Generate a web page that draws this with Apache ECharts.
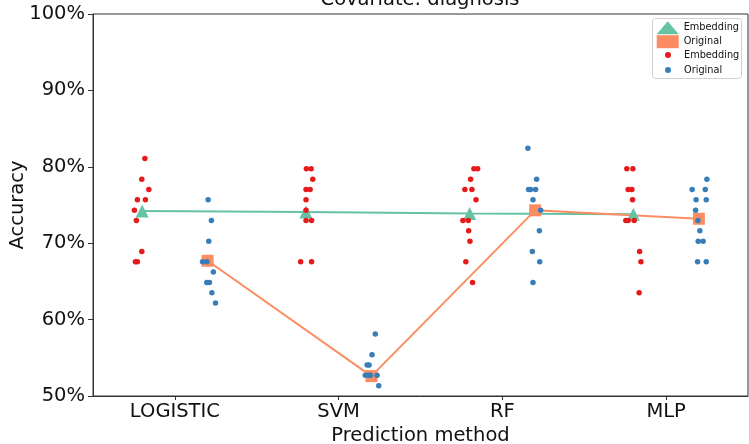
<!DOCTYPE html>
<html>
<head>
<meta charset="utf-8">
<script src="https://cdn.jsdelivr.net/npm/echarts@6/dist/echarts.min.js"></script>
<style>
html,body{margin:0;padding:0;background:#fff;}
#chart{width:749px;height:444px;}
</style>
</head>
<body>
<div id="chart"></div>
<script>
// ---- data ----
const categories = ['LOGISTIC', 'SVM', 'RF', 'MLP'];
const titleText = 'Covariate: diagnosis';
const yTickValues = [50, 60, 70, 80, 90, 100];

// mean accuracy per method (line + big markers)
const embeddingMean = [74.2, 74.1, 73.9, 73.8];
const originalMean  = [67.7, 52.6, 74.3, 73.2];

// individual fold accuracies (strip points) per method
const embeddingPoints = [
  [81.08, 78.38, 77.03, 75.68, 75.68, 74.32, 72.97, 68.92, 67.57, 67.57],
  [79.73, 79.73, 78.38, 77.03, 77.03, 75.68, 74.32, 72.97, 72.97, 67.57, 67.57],
  [79.73, 79.73, 78.38, 77.03, 77.03, 75.68, 72.97, 72.97, 71.62, 70.27, 67.57, 64.86],
  [79.73, 79.73, 77.03, 77.03, 75.68, 72.97, 72.97, 72.97, 68.92, 67.57, 63.51]
];
const originalPoints = [
  [75.68, 72.97, 70.27, 67.57, 67.57, 66.22, 64.86, 64.86, 63.51, 62.16],
  [58.11, 55.41, 54.05, 54.05, 52.70, 52.70, 52.70, 52.70, 51.35],
  [82.43, 78.38, 77.03, 77.03, 77.03, 75.68, 74.32, 71.62, 68.92, 67.57, 64.86],
  [78.38, 77.03, 77.03, 75.68, 75.68, 74.32, 72.97, 71.62, 70.27, 70.27, 67.57, 67.57]
];
// horizontal strip jitter (in category-width units)
const embeddingJitter = [
  [0.017, -0.002, 0.041, -0.029, 0.020, -0.047, -0.035, -0.002, -0.041, -0.029],
  [0.003, 0.032, 0.042, 0.001, 0.026, 0.001, 0.001, 0.001, 0.035, -0.032, 0.035],
  [0.026, 0.049, 0.006, -0.029, 0.014, 0.039, -0.041, -0.008, -0.006, 0.002, -0.023, 0.018],
  [-0.040, -0.003, -0.032, -0.009, -0.005, -0.046, -0.032, 0.005, 0.038, 0.046, 0.035]
];
const originalJitter = [
  [0.003, 0.023, 0.007, -0.031, -0.004, 0.035, -0.005, 0.011, 0.026, 0.048],
  [0.024, 0.004, -0.026, -0.014, -0.037, -0.018, -0.006, 0.035, 0.045],
  [-0.044, 0.009, -0.040, -0.028, 0.003, -0.013, 0.034, 0.026, -0.017, 0.028, -0.013],
  [0.049, -0.041, 0.039, -0.017, 0.045, -0.020, -0.006, 0.006, -0.004, 0.026, -0.008, 0.045]
];
const groupOffset = 0.2; // dodge of Embedding (-) / Original (+)

// ---- build ----
const FONT = 'DejaVu Sans';
const TXT = '#111';
const C_EMB_MEAN = '#66c2a5', C_ORI_MEAN = '#fc8d62';
const C_EMB_PT = '#e41a1c', C_ORI_PT = '#377eb8';

function meanData(arr, off) { return arr.map((v, i) => [i + off, v]); }
function stripData(pts, jit, off) {
  const out = [];
  pts.forEach((list, i) => list.forEach((v, k) => out.push([i + off + jit[i][k], v])));
  return out;
}

const chart = echarts.init(document.getElementById('chart'), null, {renderer: 'canvas'});
const option = {
  animation: false,
  backgroundColor: '#fff',
  textStyle: {fontFamily: FONT},
  grid: {left: 93, top: 14, right: 1, bottom: 48, show: true, borderColor: '#333', borderWidth: 1,
         containLabel: false, outerBoundsMode: 'none'},
  graphic: [
    {type: 'text', x: 420, y: 0, z: 10,
     style: {text: titleText, font: '19.5px "DejaVu Sans"', fill: TXT, textAlign: 'center', textVerticalAlign: 'middle'}},
    {type: 'rect', z: 5, shape: {x: 652.5, y: 18.5, width: 89, height: 60, r: 3},
     style: {fill: 'rgba(255,255,255,0.85)', stroke: '#d0d0d0', lineWidth: 1}}
  ],
  legend: [
    {orient: 'vertical', left: 656.7, top: 21.2, padding: 0, itemGap: 1, itemWidth: 22, itemHeight: 13,
     symbolKeepAspect: true, z: 20,
     textStyle: {fontFamily: FONT, fontSize: 9.75, color: TXT, lineHeight: 13},
     data: [{name: 'Embedding', icon: 'triangle'}, {name: 'Original', icon: 'rect'}]},
    {orient: 'vertical', left: 665, top: 48.5, padding: 0, itemGap: 2, itemWidth: 22, itemHeight: 6,
     symbolKeepAspect: true, z: 20,
     textStyle: {fontFamily: FONT, fontSize: 9.75, color: TXT, lineHeight: 13},
     data: [{name: 'Embedding ', icon: 'circle'}, {name: 'Original ', icon: 'circle'}]}
  ],
  xAxis: [
    {type: 'category', data: categories, boundaryGap: true, position: 'bottom',
     name: 'Prediction method', nameLocation: 'middle', nameGap: 30, nameMoveOverlap: false,
     nameTextStyle: {fontFamily: FONT, fontSize: 19.5, color: TXT},
     axisLine: {show: true, onZero: false, lineStyle: {color: '#333', width: 1}},
     axisTick: {show: true, alignWithLabel: true, length: 4, lineStyle: {color: '#333'}},
     axisLabel: {fontFamily: FONT, fontSize: 19.5, color: TXT, margin: 6},
     splitLine: {show: false}},
    {type: 'value', min: -0.5, max: 3.5, show: false, splitLine: {show: false},
     axisLine: {show: false, onZero: false}}
  ],
  yAxis: {
    type: 'value', min: yTickValues[0], max: yTickValues[yTickValues.length - 1], interval: 10,
    name: 'Accuracy', nameLocation: 'middle', nameGap: 65, nameRotate: 90, nameMoveOverlap: false,
    nameTextStyle: {fontFamily: FONT, fontSize: 19.5, color: TXT},
    axisLine: {show: true, onZero: false, lineStyle: {color: '#333', width: 1}},
    axisTick: {show: true, length: 5, lineStyle: {color: '#333'}},
    axisLabel: {fontFamily: FONT, fontSize: 19.5, color: TXT, margin: 8, formatter: '{value}%'},
    splitLine: {show: false}
  },
  series: [
    {name: 'Embedding', type: 'line', xAxisIndex: 1, z: 2,
     data: meanData(embeddingMean, -groupOffset),
     symbol: 'triangle', symbolSize: 13, showAllSymbol: true,
     itemStyle: {color: C_EMB_MEAN}, lineStyle: {color: C_EMB_MEAN, width: 2}},
    {name: 'Original', type: 'line', xAxisIndex: 1, z: 2,
     data: meanData(originalMean, groupOffset),
     symbol: 'rect', symbolSize: 12, showAllSymbol: true,
     itemStyle: {color: C_ORI_MEAN}, lineStyle: {color: C_ORI_MEAN, width: 2}},
    {name: 'Embedding ', type: 'scatter', xAxisIndex: 1, z: 3,
     data: stripData(embeddingPoints, embeddingJitter, -groupOffset),
     symbolSize: 5.5, itemStyle: {color: C_EMB_PT, opacity: 1}},
    {name: 'Original ', type: 'scatter', xAxisIndex: 1, z: 3,
     data: stripData(originalPoints, originalJitter, groupOffset),
     symbolSize: 5.5, itemStyle: {color: C_ORI_PT, opacity: 1}}
  ]
};
chart.setOption(option);
</script>
</body>
</html>
